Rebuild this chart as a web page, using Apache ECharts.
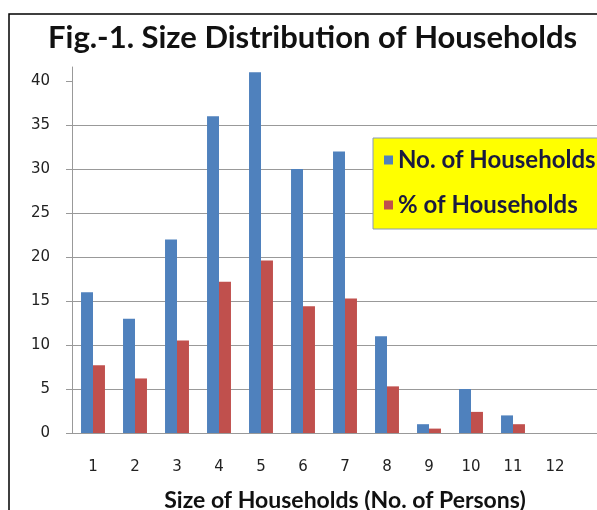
<!DOCTYPE html>
<html>
<head>
<meta charset="utf-8">
<script src="https://cdn.jsdelivr.net/npm/echarts@6/dist/echarts.min.js"></script>
<style>
  html, body { margin: 0; padding: 0; background: #fff; }
  #main { width: 597px; height: 510px; }
</style>
</head>
<body>
<div id="main"></div>
<script>
// household size categories (last slot is the empty one cut off at the edge)
var sizes = ['1', '2', '3', '4', '5', '6', '7', '8', '9', '10', '11', '12', ''];
var households = [16, 13, 22, 36, 41, 30, 32, 11, 1, 5, 2, 0, null];
var percent = [7.7, 6.2, 10.5, 17.2, 19.6, 14.4, 15.3, 5.3, 0.5, 2.4, 1.0, 0, null];
var yTicks = [0, 5, 10, 15, 20, 25, 30, 35, 40];

var myChart = echarts.init(document.getElementById('main'));
var font = 'Lato';

var option = {
    animation: false,
    backgroundColor: '#fff',
    title: {
        text: 'Fig.-1. Size Distribution of Households',
        left: 43,
        top: 17,
        textStyle: { fontFamily: font, fontSize: 31, fontWeight: 'bold', color: '#111' }
    },
    graphic: [{
        type: 'rect',
        shape: { x: 9, y: 14, width: 620, height: 520 },
        style: { fill: 'none', stroke: '#000', lineWidth: 1.5 },
        silent: true
    }],
    legend: {
        orient: 'vertical',
        left: 373,
        top: 138,
        backgroundColor: '#ffff00',
        borderColor: '#8899bb',
        borderWidth: 1,
        padding: [10, 40, 12, 11],
        itemWidth: 9,
        itemHeight: 9,
        itemGap: 21,
        icon: 'rect',
        textStyle: { fontFamily: font, fontSize: 24, fontWeight: 'bold', color: '#1a1a40', padding: [0, 0, 0, 0] },
        data: ['No. of Households', '% of Households']
    },
    grid: { left: 72, top: 67, bottom: 77, right: -21, outerBoundsMode: 'none', containLabel: false },
    xAxis: {
        type: 'category',
        data: sizes,
        name: 'Size of Households (No. of Persons)',
        nameLocation: 'middle',
        nameGap: 56,
        nameTextStyle: { fontFamily: font, fontSize: 23, fontWeight: 'bold', color: '#111' },
        axisLine: { lineStyle: { color: '#999', width: 1 } },
        axisTick: { length: 6, lineStyle: { color: '#999' }, alignWithLabel: false },
        axisLabel: { interval: 0, margin: 27, fontFamily: 'DejaVu Sans', fontSize: 15, color: '#222' }
    },
    yAxis: {
        type: 'value',
        min: 0,
        max: 41.6,
        axisLine: { show: true, lineStyle: { color: '#999', width: 1 } },
        axisTick: { show: true, length: 6, customValues: yTicks, lineStyle: { color: '#999' } },
        axisLabel: { customValues: yTicks, margin: 22, fontFamily: 'DejaVu Sans', fontSize: 15, color: '#222' },
        splitLine: { show: true, showMaxLine: false, lineStyle: { color: '#999', width: 1 } }
    },
    series: [{
        name: 'No. of Households',
        type: 'bar',
        data: households,
        barGap: '0%',
        barCategoryGap: '43%',
        itemStyle: { color: '#4f81bd' }
    }, {
        name: '% of Households',
        type: 'bar',
        data: percent,
        itemStyle: { color: '#c0504d' }
    }]
};

myChart.setOption(option);
</script>
</body>
</html>
